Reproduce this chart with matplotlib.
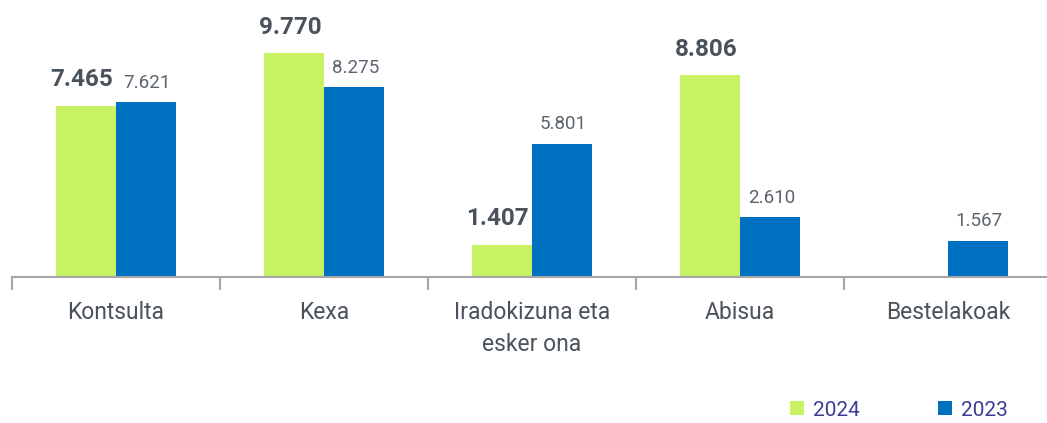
import matplotlib
matplotlib.use("Agg")
import matplotlib.pyplot as plt
import numpy as np
from matplotlib.patches import Patch

plt.rcParams['font.family'] = ['Roboto', 'DejaVu Sans']

categories = ["Kontsulta", "Kexa", "Iradokizuna eta\nesker ona", "Abisua", "Bestelakoak"]
values_2024 = [7465, 9770, 1407, 8806, None]
values_2023 = [7621, 8275, 5801, 2610, 1567]
labels_2024 = ["7.465", "9.770", "1.407", "8.806", ""]
labels_2023 = ["7.621", "8.275", "5.801", "2.610", "1.567"]
series_names = ["2024", "2023"]

green = "#c8f263"
blue = "#0070c0"
axis_gray = "#a6a6a6"
text_dark = "#4a525c"
text_gray = "#5c636d"
legend_text = "#3b3b96"

W, H = 1047, 423
fig = plt.figure(figsize=(W / 100, H / 100), dpi=100)
ax = fig.add_axes([12 / W, (H - 277) / H, 1040 / W, 277 / H])

x = np.arange(len(categories))
bw = 60 / 208
v24 = np.array([np.nan if v is None else v for v in values_2024], dtype=float)
v23 = np.array(values_2023, dtype=float)

b24 = ax.bar(x - bw / 2, np.nan_to_num(v24), width=bw, color=green, linewidth=0, zorder=2)
b23 = ax.bar(x + bw / 2, v23, width=bw, color=blue, linewidth=0, zorder=2)

for xi, v, lab in zip(x, v24, labels_2024):
    if np.isnan(v) or not lab:
        continue
    ax.annotate(lab, (xi - bw / 2, v), xytext=(-3, 14), textcoords="offset points",
                ha="center", va="baseline", fontsize=17.5, fontweight="bold", color=text_dark)
for xi, v, lab in zip(x, v23, labels_2023):
    ax.annotate(lab, (xi + bw / 2, v), xytext=(1, 10.5), textcoords="offset points",
                ha="center", va="baseline", fontsize=13.5, color=text_gray)

ax.set_xlim(-0.5, len(categories) - 0.5)
ax.set_ylim(0, 12080)

for s in ["top", "right", "left"]:
    ax.spines[s].set_visible(False)
ax.spines["bottom"].set_color(axis_gray)
ax.spines["bottom"].set_linewidth(1.5)
ax.set_yticks([])

ax.set_xticks(x)
ax.set_xticklabels(categories, fontsize=16.5, color=text_dark, linespacing=1.5)
ax.tick_params(axis="x", which="major", length=0, pad=17.5)
ax.set_xticks(np.arange(-0.5, len(categories), 1.0), minor=True)
ax.tick_params(axis="x", which="minor", length=9, width=1.5, color=axis_gray)

handles = [Patch(facecolor=green, edgecolor="none"), Patch(facecolor=blue, edgecolor="none")]
leg = fig.legend(handles, series_names, loc="center left",
                 bbox_to_anchor=(790 / W, 1 - 410 / H), ncol=2, frameon=False,
                 fontsize=15, handlelength=0.68, handleheight=0.68,
                 handletextpad=0.42, columnspacing=3.75, borderpad=0, borderaxespad=0)
for t in leg.get_texts():
    t.set_color(legend_text)

fig.savefig("out.png", dpi=100)
